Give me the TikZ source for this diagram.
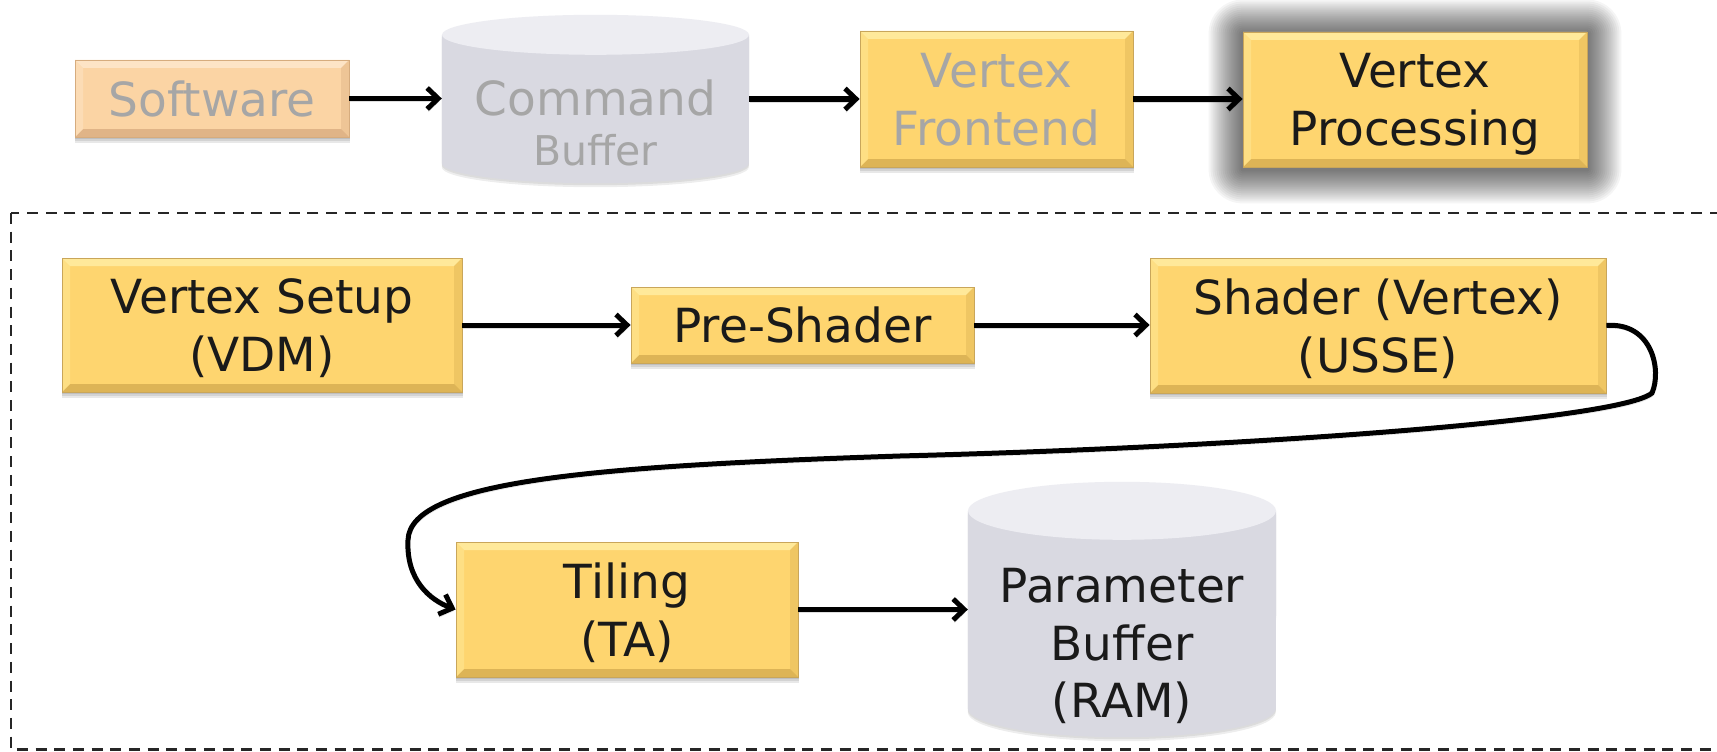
\documentclass[tikz,border=0pt]{standalone}
\usepackage{fontspec}
\setmainfont{DejaVu Sans}
\usetikzlibrary{arrows.meta,backgrounds}
\definecolor{boxfill}{HTML}{FED56F}
\definecolor{boxtop}{HTML}{FFE99A}
\definecolor{boxbot}{HTML}{DDB456}
\definecolor{boxline}{HTML}{C9A65A}
\definecolor{swfill}{HTML}{FBD4A4}
\definecolor{swtop}{HTML}{FDE4C6}
\definecolor{swbot}{HTML}{E0B487}
\definecolor{swline}{HTML}{D6AC7E}
\definecolor{dimtext}{HTML}{A6A6A6}
\definecolor{cylbody}{HTML}{D9D9E1}
\definecolor{cyltop}{HTML}{EDEDF2}
\definecolor{ink}{HTML}{1A1A1A}
\tikzset{
  bevel/.style 2 args={path picture={
    \path (path picture bounding box.north west) coordinate (bvnw)
          (path picture bounding box.north east) coordinate (bvne)
          (path picture bounding box.south west) coordinate (bvsw)
          (path picture bounding box.south east) coordinate (bvse);
    \fill[#1] (bvnw) -- (bvne) -- ([shift={(-8pt,-8pt)}]bvne) -- ([shift={(8pt,-8pt)}]bvnw) -- cycle;
    \fill[#2] (bvsw) -- (bvse) -- ([shift={(-8pt,8pt)}]bvse) -- ([shift={(8pt,8pt)}]bvsw) -- cycle;
    \fill[#1,opacity=.5] (bvnw) -- ([shift={(8pt,-8pt)}]bvnw) -- ([shift={(8pt,8pt)}]bvsw) -- (bvsw) -- cycle;
    \fill[#2,opacity=.45] (bvne) -- ([shift={(-8pt,-8pt)}]bvne) -- ([shift={(-8pt,8pt)}]bvse) -- (bvse) -- cycle;
  }},
  stage/.style={draw=boxline, line width=0.8pt, fill=boxfill, text=ink, align=center,
    font=\fontsize{47}{58}\selectfont, inner sep=0pt, text depth=0pt, bevel={boxtop}{boxbot}},
  swstage/.style={stage, draw=swline, fill=swfill, text=dimtext, bevel={swtop}{swbot}},
  cylnode/.style={draw=none, inner sep=0pt},
  txt/.style={inner sep=0pt, align=center, font=\fontsize{47}{57.5}\selectfont, text=ink},
  dimlabel/.style={txt, text=dimtext},
  conn/.style={line width=5pt, -{Straight Barb[length=11pt,width=21pt]},
    preaction={draw=black, opacity=0.13, transform canvas={shift={(1pt,-3pt)}}}},
}
\begin{document}
\begin{tikzpicture}[x=1pt,y=-1pt]
\useasboundingbox (0,0) rectangle (1717,752);
\clip (0,0) rectangle (1717,752);

% nodes
\node[swstage, minimum width=274pt, minimum height=77pt] (sw) at (212,98.5) {Software};
\node[cylnode, minimum width=307pt, minimum height=168pt] (cb) at (595.5,99) {};
\node[dimlabel, anchor=base] (cbl1) at (595.5,115) {Command};
\node[dimlabel, anchor=base, font=\fontsize{41}{49}\selectfont] (cbl2) at (595.5,165) {Buffer};
\node[stage, text=dimtext, minimum width=273pt, minimum height=136pt] (vf) at (996.5,99) {Vertex\\Frontend};
\node[stage, minimum width=344pt, minimum height=135pt] (vp) at (1415,99.5) {Vertex\\Processing};
\node[stage, minimum width=400pt, minimum height=134pt] (vs) at (262,325) {Vertex Setup\\(VDM)};
\node[stage, minimum width=343pt, minimum height=76pt] (ps) at (802.5,325) {Pre-Shader};
\node[stage, minimum width=456pt, minimum height=135pt] (sh) at (1378,325.5) {Shader (Vertex)\\(USSE)};
\node[stage, minimum width=342pt, minimum height=135pt] (tl) at (627,609.5) {Tiling\\(TA)};
\node[cylnode, minimum width=308pt, minimum height=255pt] (pb) at (1122,609.5) {};
\node[txt, text depth=0pt] (pbl) at (1122,643) {Parameter\\Buffer\\(RAM)};

% background things
\begin{scope}[on background layer]
  \fill[white] (0,0) rectangle (1717,752);
  % glow around Vertex Processing
  \foreach \r in {2,4,...,34} {
    \fill[black, opacity=0.04, rounded corners=\r pt]
      ([shift={(-\r pt,\r pt-2pt)}]vp.north west) rectangle ([shift={(\r pt,-\r pt-2pt)}]vp.south east);
  }
  % soft drop shadows
  \foreach \n in {sw,vf,vs,ps,sh,tl} {
    \foreach \d in {2,4,6} {
      \fill[black, opacity=0.09]
        ([shift={(0pt,-\d pt)}]\n.north west) rectangle ([shift={(1pt,-\d pt)}]\n.south east);
    }
  }
  % cylinders
  \foreach \c/\ry/\rx in {cb/20/153.5, pb/29/154} {
    \foreach \d in {2,4} {
      \fill[black, opacity=0.07] ([yshift=-\ry pt-\d pt]\c.north west) -- ([yshift=\ry pt-\d pt]\c.south west)
        arc[start angle=180, end angle=360, x radius=\rx pt, y radius=\ry pt]
        -- ([yshift=-\ry pt-\d pt]\c.north east) -- cycle;
    }
    \fill[cylbody] ([yshift=-\ry pt]\c.north west) -- ([yshift=\ry pt]\c.south west)
      arc[start angle=180, end angle=360, x radius=\rx pt, y radius=\ry pt]
      -- ([yshift=-\ry pt]\c.north east) -- cycle;
    \fill[cyltop] ([yshift=-\ry pt]\c.north) ellipse[x radius=\rx pt, y radius=\ry pt];
  }
\end{scope}

% dashed frame
\draw[line width=2.6pt, dash pattern=on 11pt off 7.7pt, black!85] (11,213) rectangle (1760,749.5);

% connectors
\draw[conn] (sw.east) -- (sw.east -| cb.west);
\draw[conn] (cb.east) -- (cb.east -| vf.west);
\draw[conn] (vf.east) -- (vf.east -| vp.west);
\draw[conn] (vs.east) -- (vs.east -| ps.west);
\draw[conn] (ps.east) -- (ps.east -| sh.west);
\draw[conn] (tl.east) -- (tl.east -| pb.west);
\draw[conn] (sh.east) .. controls (1652,322) and (1662,370) .. (1652,393)
  .. controls (1620,420) and (1250,447) .. (900,456)
  .. controls (600,466) and (410,480) .. (408,540)
  .. controls (406,580) and (430,600) .. (tl.west);
\end{tikzpicture}
\end{document}
